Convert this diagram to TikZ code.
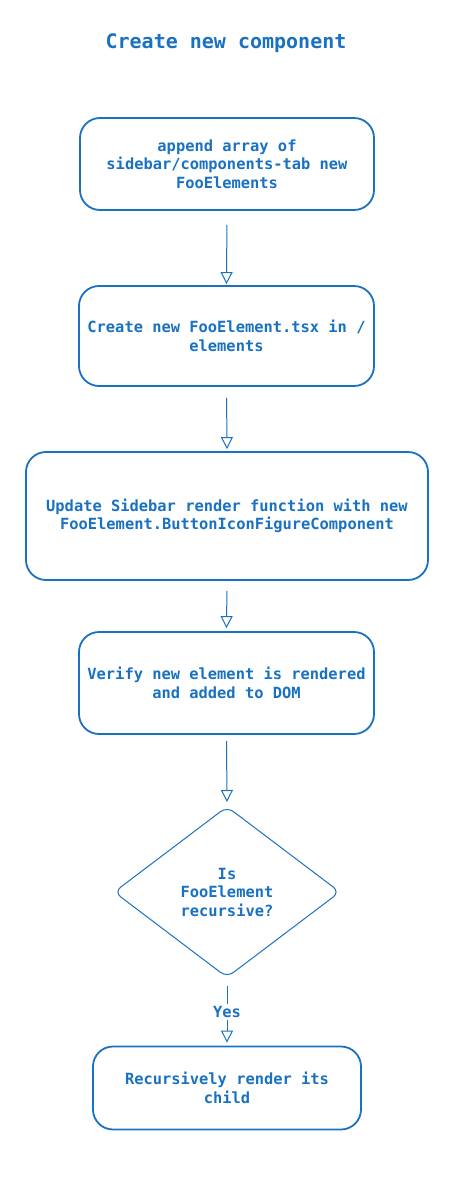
\documentclass[tikz,border=0pt]{standalone}
\usepackage{fontspec}
\setmonofont{DejaVu Sans Mono}
\usetikzlibrary{shapes.geometric,arrows.meta}
\definecolor{exblue}{HTML}{1971C2}
\begin{document}
\begin{tikzpicture}[x=1pt,y=-1pt,
  every node/.style={font=\ttfamily\bfseries\fontsize{15.4}{18.5}\selectfont, text=exblue, align=center},
  procbox/.style={draw=exblue, line width=1.8pt, rounded corners=20pt},
  decbox/.style={draw=exblue, line width=1pt, diamond, rounded corners=8pt, aspect=1.32, inner sep=0pt},
  flow/.style={draw=exblue, line width=1pt, -{Triangle[open,length=12pt,width=12pt]}}
]
\useasboundingbox (0,0) rectangle (465,1178);
\node[font=\ttfamily\bfseries\fontsize{20}{22}\selectfont] (title) at (226,43) {Create new component};
\node[procbox, minimum width=294pt, minimum height=92pt] (b1) at (227,164) {append array of\\sidebar/components-tab new\\FooElements};
\node[procbox, minimum width=295pt, minimum height=100pt] (b2) at (226.5,336) {Create new FooElement.tsx in /\\elements};
\node[procbox, minimum width=402pt, minimum height=128pt] (b3) at (227,516) {Update Sidebar render function with new\\FooElement.ButtonIconFigureComponent};
\node[procbox, minimum width=295pt, minimum height=102pt] (b4) at (226.5,683) {Verify new element is rendered\\and added to DOM};
\node[decbox, minimum width=226pt, minimum height=171pt] (d1) at (227,892) {};
\node at (227,892) {Is\\FooElement\\recursive?};
\node[procbox, minimum width=268pt, minimum height=83pt] (b5) at (227,1088) {Recursively render its\\child};
\draw[flow, shorten <=14pt, shorten >=1pt] (b1.south) -- (b2.north);
\draw[flow, shorten <=11pt, shorten >=2pt] (b2.south) -- (b3.north);
\draw[flow, shorten <=10pt, shorten >=3pt] (b3.south) -- (b4.north);
\draw[flow, shorten <=6pt, shorten >=4pt] (b4.south) -- (d1.north);
\draw[flow, shorten <=8pt, shorten >=3pt] (d1.south) -- node[fill=white, inner sep=2pt] {Yes} (b5.north);
\end{tikzpicture}
\end{document}
